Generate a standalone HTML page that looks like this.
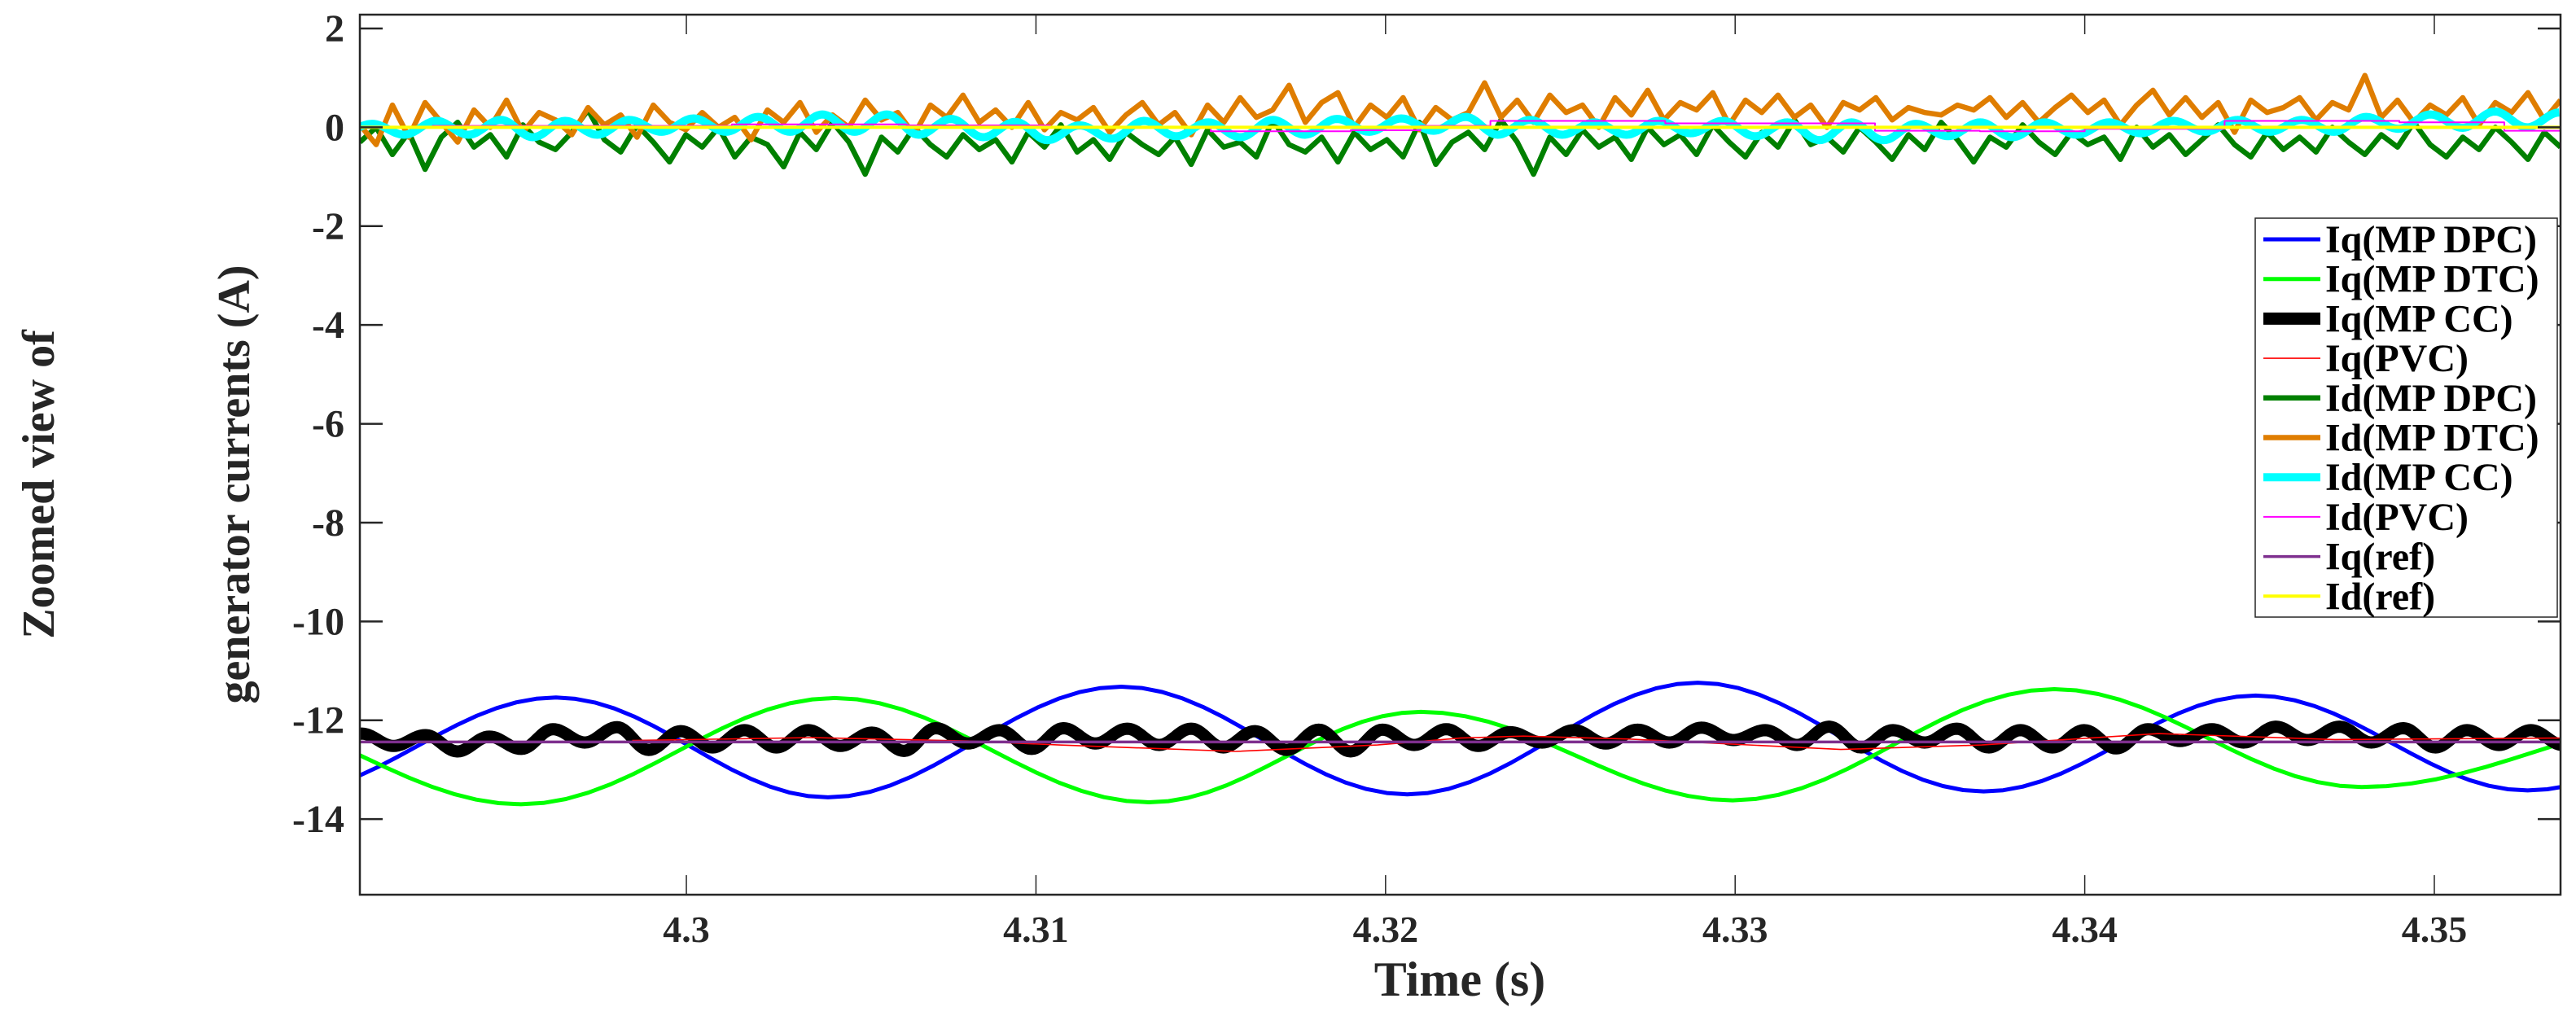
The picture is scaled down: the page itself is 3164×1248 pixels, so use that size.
<!DOCTYPE html>
<html><head><meta charset="utf-8"><style>
html,body{margin:0;padding:0;background:#fff;}
svg{display:block;font-family:"Liberation Serif","Times New Roman",serif;font-weight:bold;}
</style></head><body>
<svg id="chart" width="3164" height="1248" viewBox="0 0 3164 1248" xmlns="http://www.w3.org/2000/svg">
<defs><clipPath id="plotclip"><rect x="442" y="18" width="2703" height="1081"/></clipPath></defs>
<rect x="0" y="0" width="3164" height="1248" fill="#fff"/>
<g id="series" clip-path="url(#plotclip)"></g>
<g id="axes"></g>
<text transform="translate(66,595) rotate(-90)" text-anchor="middle" font-size="56" fill="#262626">Zoomed view of</text>
<text transform="translate(306,595) rotate(-90)" text-anchor="middle" font-size="56" fill="#262626">generator currents (A)</text>
<text x="1793" y="1223" text-anchor="middle" font-size="60" fill="#262626">Time (s)</text>
<g id="legend"></g>
</svg>
<script>
const xTicks = [4.3, 4.31, 4.32, 4.33, 4.34, 4.35];
const xTickLabels = ["4.3", "4.31", "4.32", "4.33", "4.34", "4.35"];
const yTicks = [2, 0, -2, -4, -6, -8, -10, -12, -14];
const yTickLabels = ["2", "0", "-2", "-4", "-6", "-8", "-10", "-12", "-14"];
const xDomain = [4.29066, 4.35361];
const yDomain = [-15.53, 2.28];

const blueTimes = [4.28835, 4.29627, 4.30405, 4.31244, 4.32062, 4.32893, 4.33711, 4.34489, 4.35267, 4.36050];
const blueVals = [-13.5, -11.54, -13.56, -11.32, -13.5, -11.24, -13.44, -11.5, -13.42, -11.6];
const greenTimes = [4.28630, 4.29527, 4.30424, 4.31323, 4.32101, 4.32993, 4.33913, 4.34792, 4.35793];
const greenVals = [-11.8, -13.7, -11.55, -13.66, -11.83, -13.62, -11.37, -13.35, -11.9];
const blackStart = 4.2898, blackHalf = 0.0009125;
const blackVals = [-12.5,-12.27,-12.52,-12.30,-12.63,-12.33,-12.58,-12.18,-12.45,-12.14,-12.60,-12.22,-12.55,-12.20,-12.55,-12.20,-12.52,-12.25,-12.62,-12.16,-12.47,-12.20,-12.58,-12.16,-12.47,-12.17,-12.50,-12.17,-12.55,-12.22,-12.60,-12.19,-12.63,-12.19,
-12.50,-12.18,-12.52,-12.24,-12.45,-12.20,-12.47,-12.19,-12.45,-12.15,-12.40,-12.20,-12.50,-12.13,-12.55,-12.20,-12.45,-12.17,-12.55,-12.20,-12.55,-12.20,-12.57,-12.18,-12.42,-12.18,-12.45,-12.13,-12.40,-12.13,-12.45,-12.16,-12.55,-12.20,-12.50,-12.2,-12.5];
const redTimes = [4.29845, 4.30360, 4.30805, 4.31066, 4.31571, 4.31977, 4.32214, 4.32394, 4.32697, 4.33302, 4.33705, 4.34211, 4.34716, 4.35359];
const redVals = [-12.41, -12.35, -12.42, -12.5, -12.63, -12.5, -12.36, -12.32, -12.38, -12.59, -12.5, -12.27, -12.39, -12.36];
const dkGreenVals = [-0.3,0.0,-0.55,-0.1,-0.85,-0.2,0.1,-0.4,-0.15,-0.6,0.05,-0.3,-0.45,-0.1,0.35,-0.25,-0.5,0.05,-0.3,-0.7,-0.15,-0.4,0.0,-0.6,-0.2,-0.35,-0.8,-0.1,-0.45,0.1,-0.3,-0.95,-0.2,-0.5,0.0,-0.35,-0.6,-0.15,-0.45,-0.25,-0.7,-0.1,-0.4,0.05,-0.5,-0.25,-0.65,-0.1,-0.35,-0.55,-0.2,-0.75,-0.05,-0.4,-0.3,-0.6,0.15,-0.35,-0.5,-0.2,-0.7,-0.1,-0.45,-0.25,-0.6,0.1,-0.75,-0.3,
-0.1,-0.45,0.15,-0.3,-0.95,-0.2,-0.55,-0.05,-0.4,-0.2,-0.65,0.0,-0.35,-0.15,-0.55,0.05,-0.3,-0.6,-0.1,-0.4,0.15,-0.35,-0.2,-0.5,0.0,-0.3,-0.65,-0.15,-0.45,0.1,-0.25,-0.7,-0.2,-0.4,0.05,-0.3,-0.55,-0.1,-0.35,-0.2,-0.65,0.0,-0.4,-0.15,-0.55,-0.25,0.05,-0.35,-0.6,-0.1,-0.45,-0.2,-0.5,0.0,-0.3,-0.55,-0.15,-0.4,0.1,-0.35,-0.6,-0.2,-0.45,0.0,-0.3,-0.65,-0.1,-0.4];
const orangeVals = [0.05,-0.35,0.45,-0.2,0.5,0.1,-0.3,0.35,0.0,0.55,-0.1,0.3,0.15,-0.15,0.4,0.05,0.25,-0.2,0.45,0.1,-0.05,0.3,0.0,0.2,-0.25,0.35,0.1,0.5,-0.1,0.25,0.0,0.55,0.15,0.3,-0.15,0.45,0.2,0.65,0.1,0.35,0.0,0.5,-0.05,0.3,0.15,0.4,-0.1,0.25,0.5,0.05,0.3,-0.15,0.45,0.1,0.6,0.2,0.35,0.85,0.1,0.5,0.7,0.0,0.45,0.2,0.6,-0.05,0.4,0.15,
0.3,0.9,0.2,0.55,0.1,0.65,0.3,0.45,0.0,0.6,0.25,0.75,0.15,0.5,0.35,0.7,0.05,0.55,0.3,0.65,0.2,0.45,0.0,0.5,0.35,0.6,0.15,0.4,0.3,0.25,0.45,0.35,0.6,0.2,0.5,0.1,0.4,0.65,0.3,0.55,0.05,0.45,0.75,0.25,0.6,0.2,0.5,-0.1,0.55,0.3,0.4,0.6,0.15,0.5,0.35,1.05,0.2,0.55,0.1,0.45,0.25,0.6,0.05,0.5,0.3,0.7,0.15,0.55];
const cyanStart = 4.29009, cyanHalf = 0.00092;
const cyanVals = [-0.13,0.07,-0.15,0.13,-0.15,0.15,-0.2,0.13,-0.15,0.15,-0.09,0.18,-0.09,0.21,-0.09,0.26,-0.09,0.26,-0.15,0.17,-0.2,0.11,-0.26,0.04,-0.23,0.13,-0.18,0.10,-0.2,0.15,-0.15,0.17,-0.09,0.18,
-0.07,0.21,-0.15,0.15,-0.15,0.10,-0.15,0.13,-0.12,0.13,-0.18,0.10,-0.26,0.10,-0.26,0.07,-0.18,0.10,-0.2,0.10,-0.15,0.10,-0.12,0.13,-0.09,0.15,-0.09,0.15,-0.09,0.21,-0.03,0.26,-0.01,0.32,0.0,0.3];
const magTimes = [4.29066, 4.29274, 4.29378, 4.30000, 4.30130, 4.30420, 4.30630, 4.30810, 4.31040, 4.31500, 4.31900, 4.32100, 4.32300, 4.32530, 4.32800, 4.33400, 4.33700, 4.34000, 4.34400, 4.34900, 4.35200, 4.35361];
const magVals = [0.0, 0.03, 0.03, 0.03, 0.06, 0.06, 0.04, 0.04, 0.0, -0.08, -0.06, 0.03, 0.13, 0.13, 0.08, -0.07, -0.08, -0.03, 0.13, 0.1, -0.07, 0.03];
const iqRef = -12.44, idRef = 0;

const names = ["Iq(MP DPC)","Iq(MP DTC)","Iq(MP CC)","Iq(PVC)","Id(MP DPC)","Id(MP DTC)","Id(MP CC)","Id(PVC)","Iq(ref)","Id(ref)"];
const colors = ["#0000ff","#00ff00","#000000","#ff0000","#008000","#df7d00","#00ffff","#ff00ff","#7e2f8e","#ffff00"];
const widths = [5,5,15,1.6,6.5,6.5,10,2,3.5,4];

const PX0=442, PX1=3145, PY0=18, PY1=1099;
const sx = t => PX0 + (t - xDomain[0]) / (xDomain[1] - xDomain[0]) * (PX1 - PX0);
const sy = v => PY0 + (yDomain[1] - v) / (yDomain[1] - yDomain[0]) * (PY1 - PY0);
const NS = "http://www.w3.org/2000/svg";

function cosPath(times, vals){
  let d = "M" + sx(times[0]).toFixed(1) + "," + sy(vals[0]).toFixed(1);
  for (let i=1;i<times.length;i++){
    for (let k=1;k<=14;k++){
      const f=k/14, w=(1-Math.cos(Math.PI*f))/2;
      const t=times[i-1]+(times[i]-times[i-1])*f, v=vals[i-1]+(vals[i]-vals[i-1])*w;
      d += "L" + sx(t).toFixed(1) + "," + sy(v).toFixed(1);
    }
  }
  return d;
}
function linePath(times, vals){
  return times.map((t,i)=>(i?"L":"M")+sx(t).toFixed(1)+","+sy(vals[i]).toFixed(1)).join("");
}
function stairPath(times, vals){
  let d="M"+sx(times[0]).toFixed(1)+","+sy(vals[0]).toFixed(1);
  for(let i=1;i<times.length;i++){ d+="H"+sx(times[i]).toFixed(1)+"V"+sy(vals[i]).toFixed(1); }
  return d;
}
const altTimes = (start, half, n) => Array.from({length:n}, (_, i) => start + i*half);
const evenTimes = n => Array.from({length:n}, (_, i) => xDomain[0] + i*(xDomain[1]-xDomain[0])/(n-1));

const seriesG = document.getElementById("series");
const paths = [
  cosPath(blueTimes, blueVals),
  cosPath(greenTimes, greenVals),
  cosPath(altTimes(blackStart, blackHalf, blackVals.length), blackVals),
  linePath(redTimes, redVals),
  linePath(evenTimes(dkGreenVals.length), dkGreenVals),
  linePath(evenTimes(orangeVals.length), orangeVals),
  cosPath(altTimes(cyanStart, cyanHalf, cyanVals.length), cyanVals),
  stairPath(magTimes, magVals),
  linePath([xDomain[0], xDomain[1]], [iqRef, iqRef]),
  linePath([xDomain[0], xDomain[1]], [idRef, idRef])
];
const seriesNames = ["iq-mp-dpc-line","iq-mp-dtc-line","iq-mp-cc-line","iq-pvc-line","id-mp-dpc-line","id-mp-dtc-line","id-mp-cc-line","id-pvc-line","iq-ref-line","id-ref-line"];
[0,1,2,3,4,5,6,7,8,9].forEach(i=>{
  const p=document.createElementNS(NS,"path");
  p.setAttribute("d", paths[i]);
  p.setAttribute("fill","none");
  p.setAttribute("stroke", colors[i]);
  p.setAttribute("stroke-width", widths[i]);
  p.setAttribute("stroke-linejoin","round");
  
  
  seriesG.appendChild(p);
});

const axG = document.getElementById("axes");
function mk(tag, attrs){ const e=document.createElementNS(NS,tag); for(const k in attrs) e.setAttribute(k, attrs[k]); return e; }
const frame = mk("rect",{x:PX0,y:PY0,width:PX1-PX0,height:PY1-PY0,fill:"none",stroke:"#262626","stroke-width":2.5});


axG.appendChild(frame);
yTicks.forEach((v,i)=>{
  const y=sy(v);
  const t1=mk("line",{x1:PX0,y1:y,x2:PX0+28,y2:y,stroke:"#262626","stroke-width":2.5});
  
  
  axG.appendChild(t1);
  const t2=mk("line",{x1:PX1-28,y1:y,x2:PX1,y2:y,stroke:"#262626","stroke-width":2.5});
  
  
  axG.appendChild(t2);
  const lb=mk("text",{x:423,y:y+16,"text-anchor":"end","font-size":48,fill:"#262626"});
  lb.textContent=yTickLabels[i];
  
  
  axG.appendChild(lb);
});
xTicks.forEach((t,i)=>{
  const x=sx(t);
  const a=mk("line",{x1:x,y1:PY1,x2:x,y2:PY1-24,stroke:"#262626","stroke-width":1.5});
  
  
  axG.appendChild(a);
  const b=mk("line",{x1:x,y1:PY0,x2:x,y2:PY0+24,stroke:"#262626","stroke-width":1.5});
  
  
  axG.appendChild(b);
  const lb=mk("text",{x:x,y:1157,"text-anchor":"middle","font-size":46,fill:"#262626"});
  lb.textContent=xTickLabels[i];
  
  
  axG.appendChild(lb);
});

const lg=document.getElementById("legend");
const box=mk("rect",{x:2770,y:268,width:371,height:490,fill:"#fff",stroke:"#262626","stroke-width":1.5});


lg.appendChild(box);
names.forEach((n,i)=>{
  const cy=294+i*48.7;
  const g=mk("g",{});
  
  
  const ln=mk("line",{x1:2780,y1:cy,x2:2850,y2:cy,stroke:colors[i],"stroke-width":Math.min(widths[i],15)});
  
  
  g.appendChild(ln);
  const tx=mk("text",{x:2856,y:cy+16,"font-size":48,fill:"#000"});
  tx.textContent=n;
  
  
  g.appendChild(tx);
  lg.appendChild(g);
});
</script>
</body></html>
